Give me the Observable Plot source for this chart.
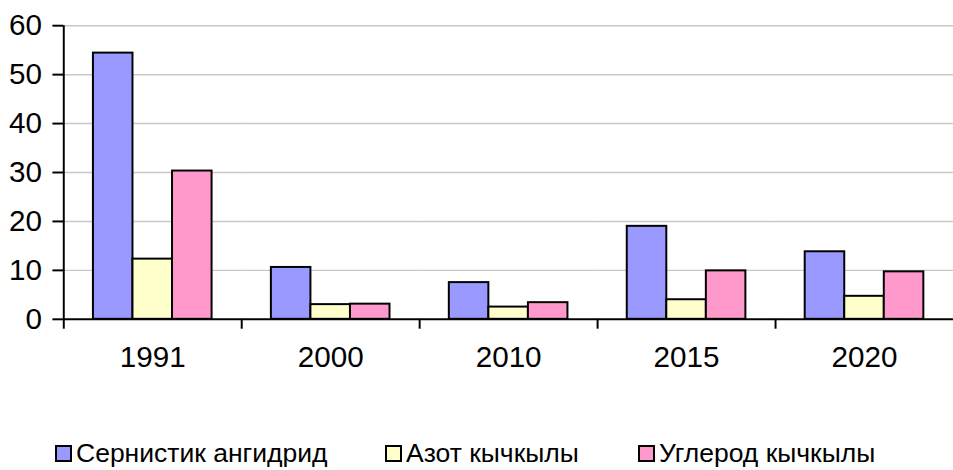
<!DOCTYPE html>
<html><head><meta charset="utf-8">
<script src="https://cdn.jsdelivr.net/npm/d3@7"></script>
<script src="https://cdn.jsdelivr.net/npm/@observablehq/plot@0.6"></script>
<style>
html,body{margin:0;padding:0;background:#fff;overflow:hidden;}
body{font-family:"Liberation Sans",Arial,sans-serif;width:953px;height:470px;position:relative;}
#chart{width:953px;overflow:hidden;}
#chart svg{display:block;}
#legend{position:relative;height:30px;margin-top:10px;}
.item{position:absolute;top:0;display:flex;align-items:center;height:17px;}
.sw{width:17px;height:17px;box-sizing:border-box;border:2px solid #000;flex:none;}
.lbl{font-size:26.5px;line-height:26px;margin-left:4px;color:#000;white-space:nowrap;}
</style></head><body><div id="chart"></div><div id="legend"></div>
<script>
// ---- data ----
const years = ["1991", "2000", "2010", "2015", "2020"];
const series = ["Сернистик ангидрид", "Азот кычкылы", "Углерод кычкылы"];
const sulfurDioxide = [54.4, 10.6, 7.5, 19.0, 13.8];
const nitrogenOxide = [12.3, 3.0, 2.5, 4.0, 4.7];
const carbonOxide = [30.3, 3.1, 3.4, 9.9, 9.7];
const yTicks = [0, 10, 20, 30, 40, 50, 60];

// ---- styles ----
const colors = ["#9999FF", "#FFFFCC", "#FF99CC"];
const legendLefts = [55, 385, 638];

const valuesBySeries = [sulfurDioxide, nitrogenOxide, carbonOxide];
const data = [];
years.forEach((yr, i) => series.forEach((s, j) => data.push({year: yr, series: s, value: valuesBySeries[j][i]})));

const width = 964, height = 440;
const marginLeft = 64, marginRight = 0, marginTop = 25.5, marginBottom = 117.5;
const facetW = (width - marginLeft - marginRight) / years.length;
const padOuter = 0.75;
const step = facetW / (series.length + 2 * padOuter);
const toFacetEdge = -(padOuter * step + step / 2);

const chart = Plot.plot({
  width, height, marginLeft, marginRight, marginTop, marginBottom,
  style: {fontFamily: "'Liberation Sans', Arial, sans-serif", color: "#000", background: "#fff"},
  fx: {domain: years, padding: 0, axis: null, label: null},
  x: {domain: series, paddingInner: 0, paddingOuter: padOuter, axis: null, label: null},
  y: {domain: [yTicks[0], yTicks[yTicks.length - 1]], axis: null, label: null},
  color: {domain: series, range: colors},
  marks: [
    Plot.gridY(yTicks.slice(1), {stroke: "#c8c8c8", strokeOpacity: 1, strokeWidth: 1.5}),
    Plot.barY(data, {fx: "year", x: "series", y: "value", fill: "series", stroke: "#000", strokeWidth: 2}),
    Plot.ruleY([0], {stroke: "#000", strokeWidth: 2}),
    Plot.ruleX([{year: years[0], series: series[0]}], {fx: "year", x: "series", y1: yTicks[0], y2: yTicks[yTicks.length - 1], dx: toFacetEdge, stroke: "#000", strokeWidth: 2}),
    Plot.axisY(yTicks, {anchor: "left", tickSize: 11, tickPadding: 11, fontSize: 30, strokeWidth: 2, label: null}),
    Plot.axisFx({anchor: "bottom", tickSize: 0, tickPadding: 27, fontSize: 30, label: null}),
    Plot.axisFx({anchor: "bottom", tickSize: 10, tickFormat: () => "", dx: -facetW / 2, strokeWidth: 2, label: null})
  ]
});
document.getElementById("chart").appendChild(chart);

// legend
const legend = document.getElementById("legend");
series.forEach((s, i) => {
  const item = document.createElement("div");
  item.className = "item";
  item.style.left = legendLefts[i] + "px";
  const sw = document.createElement("span");
  sw.className = "sw";
  sw.style.background = colors[i];
  const lbl = document.createElement("span");
  lbl.className = "lbl";
  lbl.textContent = s;
  item.appendChild(sw); item.appendChild(lbl);
  legend.appendChild(item);
});
</script></body></html>
